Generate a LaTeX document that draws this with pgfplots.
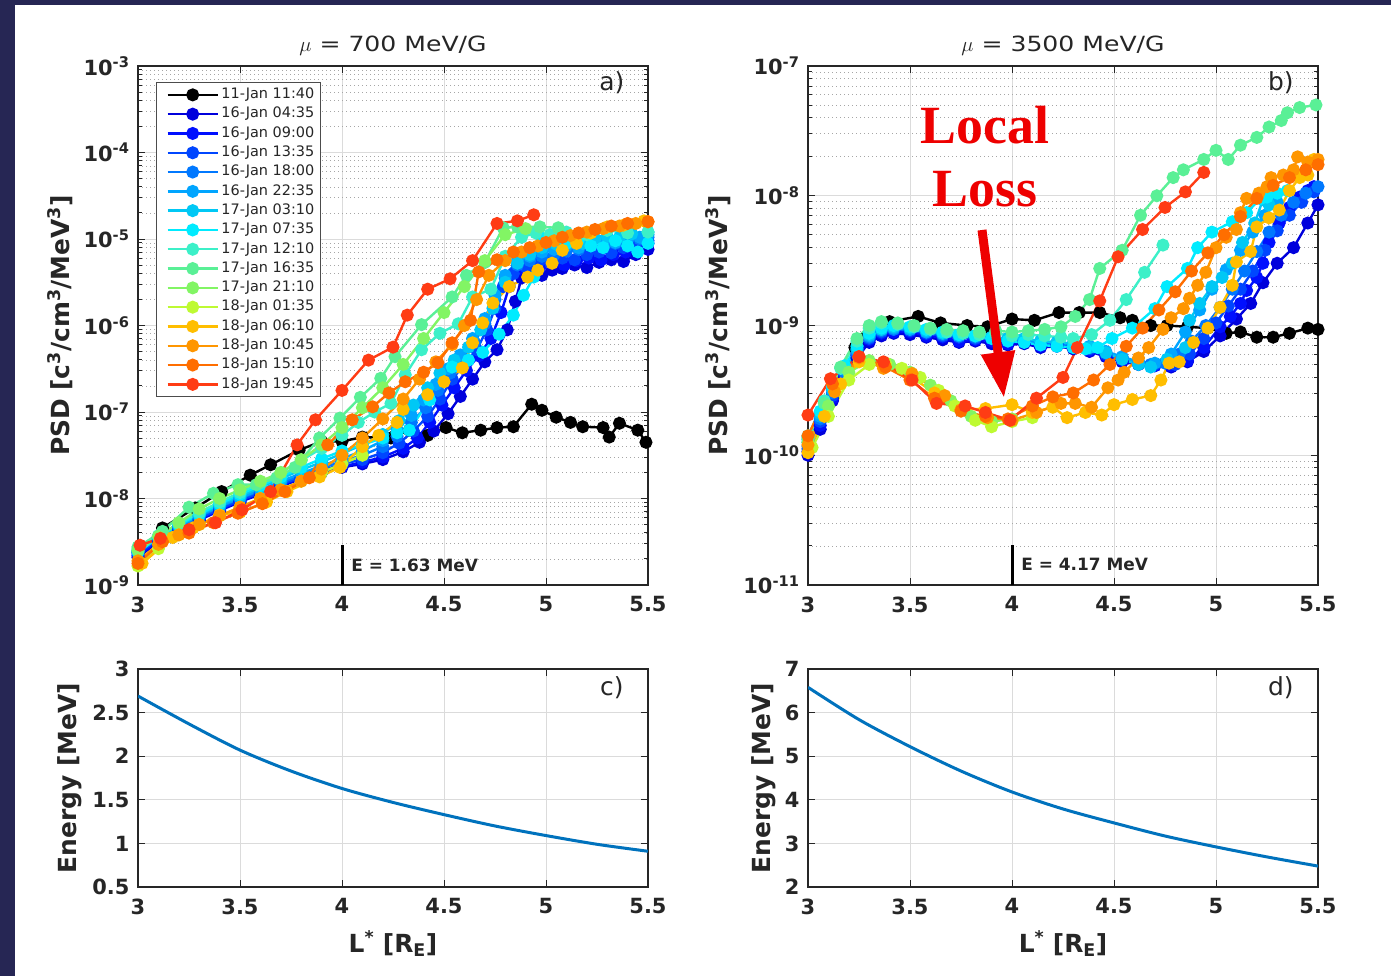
\documentclass[border=0pt]{standalone}
\usepackage{fontspec}
\setmainfont{DejaVu Sans}
\newfontfamily\timesfont{Liberation Serif}
\newfontfamily\titlefont{DejaVu Sans}[FakeStretch=1.2]
\usepackage{pgfplots}
\usepackage{pgfplotstable}
\pgfplotsset{compat=1.18}
\usetikzlibrary{arrows.meta}

\definecolor{navyb}{RGB}{38,38,84}
\colorlet{c0}{black}
\definecolor{c1}{RGB}{0,0,220}
\definecolor{c2}{RGB}{0,15,255}
\definecolor{c3}{RGB}{0,70,255}
\definecolor{c4}{RGB}{0,120,255}
\definecolor{c5}{RGB}{0,165,255}
\definecolor{c6}{RGB}{0,200,245}
\definecolor{c7}{RGB}{0,235,255}
\definecolor{c8}{RGB}{60,240,200}
\definecolor{c9}{RGB}{90,240,150}
\definecolor{c10}{RGB}{130,245,100}
\definecolor{c11}{RGB}{190,250,50}
\definecolor{c12}{RGB}{255,190,0}
\definecolor{c13}{RGB}{255,150,0}
\definecolor{c14}{RGB}{255,110,0}
\definecolor{c15}{RGB}{255,60,20}
\definecolor{mblue}{RGB}{0,114,189}
\definecolor{llred}{RGB}{238,0,0}

% ---------- panel a data (x = L*, y = log10 PSD) ----------
\pgfplotstableread[row sep=\\]{x y\\
3.00 -8.62\\3.12 -8.34\\3.28 -8.11\\3.41 -7.92\\3.55 -7.73\\3.65 -7.61\\3.79 -7.44\\3.90 -7.34\\4.00 -7.34\\4.10 -7.29\\4.24 -7.30\\4.33 -7.21\\4.42 -7.27\\4.51 -7.18\\4.59 -7.24\\4.68 -7.21\\4.76 -7.18\\4.84 -7.17\\4.93 -6.91\\4.98 -6.98\\5.05 -7.06\\5.12 -7.12\\5.18 -7.17\\5.28 -7.18\\5.31 -7.29\\5.36 -7.13\\5.45 -7.21\\5.49 -7.35\\
}\aZ
\pgfplotstableread[row sep=\\]{x y\\
3.00 -8.68\\3.10 -8.50\\3.20 -8.37\\3.30 -8.25\\3.40 -8.14\\3.50 -8.04\\3.60 -7.95\\3.70 -7.86\\3.80 -7.77\\3.90 -7.70\\4.00 -7.64\\4.10 -7.60\\4.20 -7.55\\4.30 -7.46\\4.38 -7.35\\4.45 -7.22\\4.52 -7.02\\4.58 -6.82\\4.64 -6.62\\4.70 -6.42\\4.76 -6.28\\4.81 -6.05\\4.85 -5.72\\4.88 -5.45\\4.93 -5.38\\4.98 -5.42\\5.03 -5.36\\5.08 -5.34\\5.14 -5.30\\5.20 -5.33\\5.26 -5.27\\5.32 -5.24\\5.38 -5.26\\5.44 -5.18\\5.50 -5.12\\
}\aA
\pgfplotstableread[row sep=\\]{x y\\
3.00 -8.66\\3.10 -8.49\\3.20 -8.36\\3.30 -8.24\\3.40 -8.13\\3.50 -8.03\\3.60 -7.94\\3.70 -7.85\\3.80 -7.76\\3.90 -7.69\\4.00 -7.63\\4.10 -7.58\\4.20 -7.52\\4.30 -7.42\\4.37 -7.30\\4.43 -7.12\\4.49 -6.92\\4.55 -6.72\\4.61 -6.52\\4.67 -6.35\\4.73 -6.15\\4.78 -5.85\\4.82 -5.55\\4.86 -5.35\\4.92 -5.30\\4.97 -5.33\\5.03 -5.28\\5.09 -5.30\\5.15 -5.25\\5.21 -5.22\\5.27 -5.24\\5.33 -5.18\\5.39 -5.15\\5.45 -5.10\\5.50 -5.05\\
}\aB
\pgfplotstableread[row sep=\\]{x y\\
3.00 -8.64\\3.10 -8.47\\3.20 -8.35\\3.30 -8.23\\3.40 -8.12\\3.50 -8.02\\3.60 -7.93\\3.70 -7.84\\3.80 -7.75\\3.90 -7.68\\4.00 -7.60\\4.10 -7.55\\4.20 -7.47\\4.28 -7.36\\4.35 -7.22\\4.42 -7.05\\4.48 -6.85\\4.54 -6.62\\4.60 -6.45\\4.66 -6.28\\4.71 -6.05\\4.75 -5.80\\4.79 -5.55\\4.84 -5.40\\4.90 -5.32\\4.96 -5.28\\5.02 -5.27\\5.08 -5.22\\5.14 -5.24\\5.20 -5.18\\5.26 -5.15\\5.32 -5.16\\5.38 -5.10\\5.44 -5.06\\5.50 -5.02\\
}\aC
\pgfplotstableread[row sep=\\]{x y\\
3.00 -8.62\\3.10 -8.46\\3.20 -8.33\\3.30 -8.21\\3.40 -8.10\\3.50 -8.00\\3.60 -7.91\\3.70 -7.82\\3.80 -7.73\\3.90 -7.65\\4.00 -7.57\\4.10 -7.50\\4.20 -7.40\\4.27 -7.28\\4.34 -7.12\\4.41 -6.95\\4.47 -6.75\\4.53 -6.55\\4.59 -6.38\\4.65 -6.20\\4.70 -5.98\\4.75 -5.70\\4.80 -5.45\\4.86 -5.30\\4.92 -5.25\\4.98 -5.20\\5.04 -5.18\\5.10 -5.14\\5.16 -5.12\\5.22 -5.08\\5.28 -5.10\\5.34 -5.05\\5.40 -5.02\\5.46 -5.00\\5.50 -4.98\\
}\aD
\pgfplotstableread[row sep=\\]{x y\\
3.00 -8.60\\3.10 -8.45\\3.20 -8.32\\3.30 -8.20\\3.40 -8.09\\3.50 -7.99\\3.60 -7.90\\3.70 -7.80\\3.80 -7.71\\3.90 -7.62\\4.00 -7.54\\4.10 -7.45\\4.20 -7.33\\4.27 -7.20\\4.34 -7.04\\4.40 -6.86\\4.46 -6.68\\4.52 -6.50\\4.58 -6.34\\4.64 -6.15\\4.70 -5.92\\4.75 -5.65\\4.80 -5.42\\4.86 -5.25\\4.92 -5.20\\4.98 -5.15\\5.04 -5.12\\5.10 -5.08\\5.16 -5.10\\5.22 -5.05\\5.28 -5.02\\5.34 -5.04\\5.40 -5.00\\5.46 -4.98\\5.50 -4.95\\
}\aE
\pgfplotstableread[row sep=\\]{x y\\
3.00 -8.60\\3.10 -8.44\\3.20 -8.31\\3.30 -8.19\\3.40 -8.07\\3.50 -7.97\\3.60 -7.87\\3.70 -7.77\\3.80 -7.67\\3.90 -7.58\\4.00 -7.48\\4.10 -7.38\\4.20 -7.26\\4.28 -7.10\\4.35 -6.92\\4.42 -6.72\\4.48 -6.55\\4.55 -6.40\\4.62 -6.25\\4.68 -6.05\\4.74 -5.80\\4.80 -5.50\\4.86 -5.28\\4.92 -5.18\\4.98 -5.10\\5.05 -5.06\\5.12 -5.02\\5.18 -5.05\\5.24 -5.00\\5.30 -4.97\\5.36 -4.98\\5.42 -4.94\\5.50 -4.92\\
}\aF
\pgfplotstableread[row sep=\\]{x y\\
3.00 -8.62\\3.10 -8.45\\3.20 -8.30\\3.30 -8.18\\3.40 -8.06\\3.50 -7.95\\3.60 -7.85\\3.70 -7.75\\3.80 -7.64\\3.90 -7.54\\4.00 -7.45\\4.10 -7.38\\4.20 -7.30\\4.27 -7.24\\4.33 -7.21\\4.43 -6.86\\4.54 -6.48\\4.62 -6.40\\4.69 -6.31\\4.77 -6.10\\4.84 -5.88\\4.89 -5.65\\4.94 -5.44\\4.98 -4.99\\5.04 -5.02\\5.10 -5.05\\5.16 -5.00\\5.22 -5.08\\5.28 -5.10\\5.34 -5.02\\5.40 -5.08\\5.45 -5.15\\5.50 -5.05\\
}\aG
\pgfplotstableread[row sep=\\]{x y\\
3.00 -8.58\\3.10 -8.43\\3.20 -8.29\\3.30 -8.16\\3.40 -8.04\\3.50 -7.93\\3.60 -7.82\\3.70 -7.70\\3.80 -7.56\\3.90 -7.42\\4.00 -7.27\\4.08 -7.12\\4.16 -7.00\\4.24 -6.90\\4.31 -6.57\\4.39 -6.28\\4.48 -6.09\\4.57 -5.98\\4.64 -5.67\\4.73 -5.58\\4.80 -5.20\\4.88 -4.98\\4.95 -4.93\\5.02 -4.95\\5.10 -4.92\\5.20 -4.95\\5.30 -4.90\\5.40 -4.93\\5.50 -4.92\\
}\aH
\pgfplotstableread[row sep=\\]{x y\\
3.00 -8.56\\3.12 -8.38\\3.25 -8.10\\3.37 -7.94\\3.49 -7.84\\3.58 -7.84\\3.68 -7.76\\3.77 -7.64\\3.89 -7.30\\3.99 -7.07\\4.09 -6.83\\4.19 -6.61\\4.26 -6.36\\4.39 -5.99\\4.54 -5.67\\4.61 -5.42\\4.70 -5.27\\4.79 -4.87\\4.86 -4.86\\4.97 -4.86\\5.06 -4.87\\
}\aI
\pgfplotstableread[row sep=\\]{x y\\
3.00 -8.60\\3.10 -8.44\\3.20 -8.28\\3.30 -8.12\\3.40 -8.00\\3.50 -7.90\\3.60 -7.80\\3.70 -7.70\\3.80 -7.55\\3.90 -7.38\\4.00 -7.18\\4.10 -6.95\\4.20 -6.72\\4.30 -6.45\\4.40 -6.15\\4.50 -5.85\\4.60 -5.55\\4.70 -5.25\\4.80 -4.95\\4.90 -4.88\\
}\aJ
\pgfplotstableread[row sep=\\]{x y\\
3.00 -8.78\\3.10 -8.58\\3.20 -8.42\\3.30 -8.30\\3.40 -8.20\\3.50 -8.10\\3.60 -8.00\\3.70 -7.90\\3.80 -7.80\\3.90 -7.70\\4.00 -7.60\\4.10 -7.50\\
}\aK
\pgfplotstableread[row sep=\\]{x y\\
3.02 -8.75\\3.17 -8.45\\3.27 -8.34\\3.40 -8.19\\3.50 -8.16\\3.63 -8.04\\3.73 -7.92\\3.89 -7.75\\3.99 -7.64\\4.10 -7.40\\4.18 -7.27\\4.27 -7.12\\4.30 -6.97\\4.42 -6.80\\4.50 -6.65\\4.59 -6.49\\4.64 -6.20\\4.69 -5.97\\4.74 -5.74\\4.82 -5.55\\4.91 -5.44\\4.96 -5.36\\5.03 -5.28\\5.08 -5.13\\5.15 -5.05\\5.22 -4.93\\5.30 -4.86\\5.38 -4.84\\5.48 -4.79\\
}\aL
\pgfplotstableread[row sep=\\]{x y\\
3.00 -8.72\\3.10 -8.53\\3.20 -8.42\\3.30 -8.30\\3.40 -8.20\\3.50 -8.10\\3.60 -8.00\\3.70 -7.90\\3.80 -7.80\\3.90 -7.66\\4.00 -7.50\\4.10 -7.30\\4.20 -7.08\\4.30 -6.85\\4.38 -6.62\\4.46 -6.42\\4.54 -6.22\\4.60 -6.00\\4.66 -5.70\\4.72 -5.42\\4.80 -5.25\\4.88 -5.15\\4.96 -5.08\\5.04 -5.02\\5.12 -4.96\\5.20 -4.92\\5.28 -4.88\\5.36 -4.85\\5.44 -4.82\\5.50 -4.80\\
}\aM
\pgfplotstableread[row sep=\\]{x y\\
3.00 -8.75\\3.12 -8.50\\3.25 -8.40\\3.37 -8.28\\3.49 -8.17\\3.61 -8.06\\3.72 -7.92\\3.84 -7.76\\3.93 -7.38\\4.05 -7.09\\4.15 -6.94\\4.23 -6.78\\4.31 -6.65\\4.40 -6.54\\4.47 -6.43\\4.54 -6.20\\4.63 -5.94\\4.67 -5.38\\4.76 -5.24\\4.84 -5.15\\4.92 -5.10\\5.00 -5.04\\5.08 -4.98\\5.16 -4.93\\5.24 -4.89\\5.32 -4.85\\5.40 -4.82\\5.50 -4.80\\
}\aN
\pgfplotstableread[row sep=\\]{x y\\
3.01 -8.54\\3.11 -8.46\\3.25 -8.36\\3.38 -8.28\\3.51 -8.13\\3.65 -7.92\\3.78 -7.38\\3.87 -7.09\\4.00 -6.75\\4.13 -6.40\\4.25 -6.25\\4.32 -5.88\\4.42 -5.58\\4.53 -5.46\\4.64 -5.25\\4.76 -4.82\\4.86 -4.79\\4.94 -4.72\\
}\aO

% ---------- panel b data ----------
\pgfplotstableread[row sep=\\]{x y\\
3.23 -9.17\\3.28 -9.10\\3.40 -8.97\\3.54 -8.93\\3.65 -8.98\\3.78 -9.00\\3.88 -9.01\\4.00 -8.95\\4.11 -8.96\\4.23 -8.90\\4.33 -8.90\\4.43 -8.90\\4.53 -8.94\\4.59 -8.96\\4.68 -9.00\\4.76 -9.00\\4.86 -9.01\\4.96 -9.02\\5.05 -9.06\\5.12 -9.05\\5.20 -9.09\\5.28 -9.09\\5.36 -9.06\\5.45 -9.02\\5.50 -9.03\\
}\bZ
\pgfplotstableread[row sep=\\]{x y\\
3.00 -10.00\\3.06 -9.80\\3.12 -9.58\\3.18 -9.40\\3.24 -9.25\\3.30 -9.13\\3.36 -9.08\\3.42 -9.06\\3.50 -9.07\\3.58 -9.09\\3.66 -9.11\\3.74 -9.13\\3.82 -9.12\\3.90 -9.14\\3.98 -9.15\\4.06 -9.14\\4.14 -9.17\\4.22 -9.16\\4.30 -9.18\\4.38 -9.20\\4.46 -9.24\\4.54 -9.28\\4.62 -9.30\\4.70 -9.31\\4.78 -9.32\\4.86 -9.28\\4.94 -9.20\\5.02 -9.08\\5.10 -8.95\\5.17 -8.83\\5.23 -8.67\\5.30 -8.52\\5.38 -8.40\\5.45 -8.21\\5.50 -8.07\\
}\bA
\pgfplotstableread[row sep=\\]{x y\\
3.00 -9.97\\3.06 -9.77\\3.12 -9.56\\3.18 -9.39\\3.24 -9.23\\3.30 -9.11\\3.36 -9.06\\3.42 -9.05\\3.50 -9.05\\3.58 -9.08\\3.66 -9.09\\3.74 -9.12\\3.82 -9.11\\3.90 -9.12\\3.98 -9.14\\4.06 -9.12\\4.14 -9.16\\4.22 -9.14\\4.30 -9.17\\4.38 -9.19\\4.46 -9.23\\4.54 -9.27\\4.62 -9.30\\4.70 -9.31\\4.78 -9.31\\4.86 -9.27\\4.94 -9.17\\5.02 -9.01\\5.07 -8.93\\5.12 -8.83\\5.15 -8.73\\5.20 -8.63\\5.23 -8.52\\5.26 -8.36\\5.31 -8.21\\5.36 -8.09\\5.41 -8.01\\5.45 -7.96\\5.48 -7.93\\
}\bB
\pgfplotstableread[row sep=\\]{x y\\
3.00 -9.95\\3.06 -9.74\\3.12 -9.54\\3.18 -9.37\\3.24 -9.22\\3.30 -9.10\\3.36 -9.05\\3.42 -9.03\\3.50 -9.04\\3.58 -9.06\\3.66 -9.08\\3.74 -9.09\\3.82 -9.10\\3.90 -9.10\\3.98 -9.12\\4.06 -9.13\\4.14 -9.14\\4.22 -9.15\\4.30 -9.15\\4.38 -9.18\\4.46 -9.22\\4.54 -9.26\\4.62 -9.29\\4.70 -9.30\\4.80 -9.30\\4.87 -9.22\\4.94 -9.10\\5.00 -8.98\\5.06 -8.85\\5.12 -8.72\\5.18 -8.58\\5.24 -8.42\\5.30 -8.27\\5.36 -8.15\\5.42 -8.05\\5.48 -7.97\\
}\bC
\pgfplotstableread[row sep=\\]{x y\\
3.00 -9.93\\3.06 -9.72\\3.12 -9.52\\3.18 -9.36\\3.24 -9.21\\3.30 -9.09\\3.36 -9.04\\3.42 -9.03\\3.50 -9.03\\3.58 -9.05\\3.66 -9.07\\3.74 -9.08\\3.82 -9.09\\3.90 -9.10\\3.98 -9.11\\4.06 -9.12\\4.14 -9.13\\4.22 -9.14\\4.30 -9.15\\4.38 -9.17\\4.46 -9.21\\4.54 -9.25\\4.62 -9.28\\4.68 -9.30\\4.75 -9.29\\4.82 -9.22\\4.88 -9.12\\4.95 -9.00\\5.02 -8.86\\5.08 -8.72\\5.14 -8.58\\5.20 -8.43\\5.26 -8.28\\5.32 -8.15\\5.38 -8.05\\5.44 -7.98\\5.50 -7.93\\
}\bD
\pgfplotstableread[row sep=\\]{x y\\
3.00 -9.90\\3.06 -9.70\\3.12 -9.50\\3.18 -9.34\\3.24 -9.19\\3.30 -9.08\\3.36 -9.03\\3.42 -9.02\\3.50 -9.03\\3.58 -9.05\\3.66 -9.06\\3.74 -9.08\\3.82 -9.08\\3.90 -9.09\\3.98 -9.10\\4.06 -9.11\\4.14 -9.12\\4.22 -9.13\\4.30 -9.14\\4.38 -9.16\\4.46 -9.20\\4.54 -9.24\\4.62 -9.28\\4.70 -9.29\\4.78 -9.22\\4.85 -9.05\\4.92 -8.88\\4.98 -8.72\\5.05 -8.57\\5.12 -8.42\\5.18 -8.28\\5.24 -8.15\\5.30 -8.05\\
}\bE
\pgfplotstableread[row sep=\\]{x y\\
3.00 -9.88\\3.06 -9.68\\3.12 -9.49\\3.18 -9.33\\3.24 -9.18\\3.30 -9.07\\3.36 -9.03\\3.42 -9.01\\3.50 -9.02\\3.58 -9.04\\3.66 -9.06\\3.74 -9.07\\3.82 -9.08\\3.90 -9.09\\3.98 -9.10\\4.06 -9.10\\4.14 -9.12\\4.22 -9.13\\4.30 -9.14\\4.38 -9.17\\4.46 -9.21\\4.54 -9.26\\4.62 -9.30\\4.68 -9.32\\4.76 -9.26\\4.85 -9.17\\4.87 -8.96\\4.92 -8.83\\4.98 -8.70\\5.03 -8.63\\5.08 -8.52\\5.13 -8.36\\5.19 -8.21\\5.23 -8.03\\5.26 -8.07\\
}\bF
\pgfplotstableread[row sep=\\]{x y\\
3.00 -9.86\\3.06 -9.66\\3.12 -9.47\\3.18 -9.31\\3.24 -9.16\\3.30 -9.06\\3.36 -9.02\\3.42 -9.00\\3.50 -9.01\\3.58 -9.03\\3.66 -9.05\\3.74 -9.07\\3.82 -9.08\\3.90 -9.10\\3.98 -9.12\\4.06 -9.13\\4.14 -9.15\\4.22 -9.16\\4.30 -9.17\\4.36 -9.18\\4.42 -9.17\\4.49 -9.10\\4.59 -9.02\\4.70 -8.87\\4.76 -8.70\\4.86 -8.56\\4.91 -8.40\\4.98 -8.28\\5.08 -8.20\\5.15 -8.13\\5.22 -8.02\\5.25 -8.01\\5.30 -7.98\\5.35 -7.96\\
}\bG
\pgfplotstableread[row sep=\\]{x y\\
3.00 -9.85\\3.08 -9.58\\3.16 -9.33\\3.24 -9.12\\3.30 -9.02\\3.36 -8.98\\3.44 -8.99\\3.52 -9.01\\3.60 -9.03\\3.68 -9.05\\3.76 -9.06\\3.84 -9.07\\3.92 -9.06\\4.00 -9.08\\4.08 -9.07\\4.16 -9.08\\4.24 -9.09\\4.30 -9.10\\4.39 -9.07\\4.48 -8.96\\4.56 -8.80\\4.65 -8.59\\4.74 -8.38\\
}\bH
\pgfplotstableread[row sep=\\]{x y\\
3.00 -9.87\\3.08 -9.60\\3.16 -9.32\\3.24 -9.10\\3.30 -9.00\\3.36 -8.97\\3.44 -8.98\\3.52 -9.00\\3.60 -9.02\\3.68 -9.03\\3.76 -9.04\\3.84 -9.05\\3.92 -9.04\\4.00 -9.05\\4.08 -9.04\\4.16 -9.03\\4.24 -9.01\\4.31 -8.93\\4.38 -8.80\\4.43 -8.56\\4.54 -8.42\\4.63 -8.15\\4.71 -8.00\\4.79 -7.86\\4.84 -7.80\\4.94 -7.72\\5.00 -7.65\\5.06 -7.72\\5.12 -7.61\\5.20 -7.55\\5.26 -7.47\\5.32 -7.42\\5.35 -7.36\\5.41 -7.32\\5.49 -7.30\\
}\bI
\pgfplotstableread[row sep=\\]{x y\\
3.00 -9.90\\3.10 -9.62\\3.20 -9.36\\3.30 -9.27\\3.40 -9.30\\3.50 -9.36\\3.60 -9.46\\3.70 -9.58\\3.80 -9.70\\3.90 -9.74\\4.00 -9.72\\
}\bJ
\pgfplotstableread[row sep=\\]{x y\\
3.02 -9.94\\3.10 -9.70\\3.20 -9.42\\3.30 -9.30\\3.38 -9.29\\3.46 -9.33\\3.55 -9.40\\3.64 -9.50\\3.72 -9.62\\3.82 -9.73\\3.90 -9.78\\4.00 -9.74\\4.10 -9.71\\
}\bK
\pgfplotstableread[row sep=\\]{x y\\
3.00 -9.98\\3.08 -9.70\\3.16 -9.45\\3.25 -9.28\\3.37 -9.29\\3.51 -9.40\\3.62 -9.52\\3.75 -9.65\\3.87 -9.64\\4.00 -9.61\\4.10 -9.67\\4.20 -9.63\\4.27 -9.71\\4.36 -9.67\\4.44 -9.69\\4.50 -9.61\\4.59 -9.57\\4.68 -9.54\\4.73 -9.42\\4.77 -9.29\\4.82 -9.28\\4.89 -9.13\\4.96 -9.02\\5.02 -8.86\\5.08 -8.69\\5.10 -8.51\\5.17 -8.43\\5.20 -8.24\\5.26 -8.17\\5.31 -8.11\\5.36 -7.96\\5.41 -7.86\\5.45 -7.84\\5.48 -7.72\\
}\bL
\pgfplotstableread[row sep=\\]{x y\\
3.00 -9.92\\3.13 -9.51\\3.25 -9.25\\3.37 -9.33\\3.51 -9.37\\3.67 -9.54\\3.75 -9.65\\3.88 -9.71\\4.00 -9.73\\4.12 -9.67\\4.24 -9.60\\4.31 -9.60\\4.39 -9.63\\4.47 -9.48\\4.52 -9.42\\4.55 -9.36\\4.62 -9.25\\4.67 -9.17\\4.74 -9.03\\4.78 -8.94\\4.84 -8.87\\4.87 -8.79\\4.91 -8.69\\4.95 -8.59\\5.00 -8.40\\5.05 -8.32\\5.10 -8.26\\5.12 -8.13\\5.15 -8.02\\5.21 -7.98\\5.25 -7.93\\5.27 -7.86\\5.33 -7.84\\5.38 -7.80\\5.40 -7.70\\5.45 -7.74\\5.50 -7.72\\
}\bM
\pgfplotstableread[row sep=\\]{x y\\
3.00 -9.85\\3.12 -9.45\\3.25 -9.24\\3.38 -9.32\\3.50 -9.42\\3.62 -9.56\\3.75 -9.66\\3.87 -9.70\\3.98 -9.72\\4.10 -9.62\\4.20 -9.55\\4.30 -9.52\\4.40 -9.42\\4.48 -9.30\\4.56 -9.16\\4.64 -9.02\\4.72 -8.88\\4.80 -8.74\\4.88 -8.58\\4.96 -8.44\\5.04 -8.30\\5.12 -8.16\\5.20 -8.02\\5.28 -7.92\\5.36 -7.86\\5.44 -7.80\\5.50 -7.76\\
}\bN
\pgfplotstableread[row sep=\\]{x y\\
3.00 -9.69\\3.11 -9.41\\3.25 -9.24\\3.37 -9.28\\3.51 -9.42\\3.63 -9.60\\3.77 -9.62\\3.87 -9.67\\3.99 -9.73\\4.12 -9.56\\4.25 -9.40\\4.32 -9.17\\4.43 -8.81\\4.52 -8.47\\4.64 -8.26\\4.75 -8.09\\4.85 -7.97\\4.94 -7.82\\
}\bO

\pgfkeys{/pgfplots/table/lg/.style={y expr={10^(\thisrow{y})}}}
\pgfplotsset{
  ser/.style={color=#1, line width=2.4bp, mark=*, mark size=5.3bp, mark options={solid,fill=#1,draw=#1}},
  myax/.style={
    scale only axis, width=510bp,
    axis line style={draw=black!85, line width=1.2bp},
    tick align=inside, tick pos=both,
    major tick length=7bp, minor tick length=4bp,
    every tick/.style={draw=black!85, line width=1bp},
    xmin=3, xmax=5.5,
    xtick={3,3.5,4,4.5,5,5.5}, xticklabels={3,3.5,4,4.5,5,5.5},
    tick label style={font=\bfseries\fontsize{21}{25}\selectfont, text=black!85},
    xticklabel style={yshift=-8bp},
    yticklabel style={xshift=-5bp},
    label style={font=\bfseries\fontsize{25}{29}\selectfont, text=black!85},
    title style={font=\titlefont\fontsize{21}{25}\selectfont, text=black!85, at={(axis description cs:0.5,1.016)}, anchor=base},
    xmajorgrids=true, ymajorgrids=true,
    major grid style={draw=black!14, line width=0.8bp},
    minor grid style={draw=black!35, line width=0.8bp, dash pattern=on 1bp off 3bp},
    log number format basis/.code 2 args={10\textsuperscript{\pgfmathprintnumber[assume math mode=true]{##2}}},
  },
}

\begin{document}
\begin{tikzpicture}
\fill[navyb] (0bp,0bp) rectangle (1391bp,-976bp);
\fill[white] (15bp,-5bp) rectangle (1391bp,-976bp);
\useasboundingbox (0bp,0bp) rectangle (1391bp,-976bp);

% ---------------- panel a ----------------
\begin{axis}[myax, at={(138bp,-585bp)}, anchor=south west, height=519bp,
  ymode=log, ymin=1e-9, ymax=1e-3, yminorgrids=true,
  title={$\mu$ = 700 MeV/G},
  ylabel={PSD [c\textsuperscript{3}/cm\textsuperscript{3}/MeV\textsuperscript{3}]},
  ylabel style={at={(axis description cs:-0.153,0.5)}, anchor=center},
  legend style={at={(axis description cs:0.0353,0.969)}, anchor=north west,
    draw=black!70, line width=1bp, fill=white,
    font=\fontsize{14.5}{16}\selectfont, text=black!85,
    inner xsep=4bp, inner ysep=3bp, row sep=0.8bp,
    nodes={inner sep=2.5bp, text height=10.5bp, text depth=3bp}},
  legend cell align=left,
  legend image code/.code={\path (0bp,0bp); \draw[mark repeat=2,mark phase=2,#1] plot coordinates {(6bp,0bp) (31bp,0bp) (56bp,0bp)};},
]
\addplot[ser=c0] table[lg]{\aZ}; \addlegendentry{11-Jan 11:40}
\addplot[ser=c1] table[lg]{\aA}; \addlegendentry{16-Jan 04:35}
\addplot[ser=c2] table[lg]{\aB}; \addlegendentry{16-Jan 09:00}
\addplot[ser=c3] table[lg]{\aC}; \addlegendentry{16-Jan 13:35}
\addplot[ser=c4] table[lg]{\aD}; \addlegendentry{16-Jan 18:00}
\addplot[ser=c5] table[lg]{\aE}; \addlegendentry{16-Jan 22:35}
\addplot[ser=c6] table[lg]{\aF}; \addlegendentry{17-Jan 03:10}
\addplot[ser=c7] table[lg]{\aG}; \addlegendentry{17-Jan 07:35}
\addplot[ser=c8] table[lg]{\aH}; \addlegendentry{17-Jan 12:10}
\addplot[ser=c9] table[lg]{\aI}; \addlegendentry{17-Jan 16:35}
\addplot[ser=c10] table[lg]{\aJ}; \addlegendentry{17-Jan 21:10}
\addplot[ser=c11] table[lg]{\aK}; \addlegendentry{18-Jan 01:35}
\addplot[ser=c12] table[lg]{\aL}; \addlegendentry{18-Jan 06:10}
\addplot[ser=c13] table[lg]{\aM}; \addlegendentry{18-Jan 10:45}
\addplot[ser=c14] table[lg]{\aN}; \addlegendentry{18-Jan 15:10}
\addplot[ser=c15] table[lg]{\aO}; \addlegendentry{18-Jan 19:45}
\draw[line width=3bp, black] (axis cs:4,1e-9) -- (axis cs:4,2.9e-9);
\node[anchor=west, inner sep=0pt, font=\bfseries\fontsize{17}{20}\selectfont, text=black!85] at (axis cs:4.045,1.7e-9) {E = 1.63 MeV};
\node[font=\fontsize{25}{30}\selectfont, text=black!85] at (axis description cs:0.929,0.967) {a)};
\end{axis}

% ---------------- panel b ----------------
\begin{axis}[myax, at={(808bp,-585bp)}, anchor=south west, height=519bp,
  ymode=log, ymin=1e-11, ymax=1e-7, yminorgrids=true,
  title={$\mu$ = 3500 MeV/G},
  ylabel={PSD [c\textsuperscript{3}/cm\textsuperscript{3}/MeV\textsuperscript{3}]},
  ylabel style={at={(axis description cs:-0.176,0.5)}, anchor=center},
]
\addplot[ser=c0] table[lg]{\bZ};
\addplot[ser=c1] table[lg]{\bA};
\addplot[ser=c2] table[lg]{\bB};
\addplot[ser=c3] table[lg]{\bC};
\addplot[ser=c4] table[lg]{\bD};
\addplot[ser=c5] table[lg]{\bE};
\addplot[ser=c6] table[lg]{\bF};
\addplot[ser=c7] table[lg]{\bG};
\addplot[ser=c8] table[lg]{\bH};
\addplot[ser=c9] table[lg]{\bI};
\addplot[ser=c10] table[lg]{\bJ};
\addplot[ser=c11] table[lg]{\bK};
\addplot[ser=c12] table[lg]{\bL};
\addplot[ser=c13] table[lg]{\bM};
\addplot[ser=c14] table[lg]{\bN};
\addplot[ser=c15] table[lg]{\bO};
\draw[line width=3bp, black] (axis cs:4,1e-11) -- (axis cs:4,2.04e-11);
\node[anchor=west, inner sep=0pt, font=\bfseries\fontsize{17}{20}\selectfont, text=black!85] at (axis cs:4.045,1.43e-11) {E = 4.17 MeV};
\node[font=\fontsize{25}{30}\selectfont, text=black!85] at (axis description cs:0.927,0.967) {b)};
\end{axis}

% ---------------- panel c ----------------
\begin{axis}[myax, at={(138bp,-887bp)}, anchor=south west, height=218bp,
  ymin=0.5, ymax=3, ytick={0.5,1,1.5,2,2.5,3}, yticklabels={0.5,1,1.5,2,2.5,3},
  ylabel={Energy [MeV]},
  ylabel style={at={(axis description cs:-0.133,0.5)}, anchor=center},
  xlabel={L\textsuperscript{*} [R\textsubscript{E}]},
  xlabel style={at={(axis description cs:0.5,-0.30)}, anchor=base},
]
\addplot[color=mblue, line width=3bp, smooth, no marks] coordinates {
(3.00,2.69) (3.25,2.37) (3.50,2.07) (3.75,1.83) (4.00,1.63) (4.25,1.47) (4.50,1.33) (4.75,1.20) (5.00,1.09) (5.25,0.99) (5.50,0.91)};
\node[font=\fontsize{25}{30}\selectfont, text=black!85] at (axis description cs:0.929,0.913) {c)};
\end{axis}

% ---------------- panel d ----------------
\begin{axis}[myax, at={(808bp,-887bp)}, anchor=south west, height=218bp,
  ymin=2, ymax=7, ytick={2,3,4,5,6,7}, yticklabels={2,3,4,5,6,7},
  ylabel={Energy [MeV]},
  ylabel style={at={(axis description cs:-0.086,0.5)}, anchor=center},
  xlabel={L\textsuperscript{*} [R\textsubscript{E}]},
  xlabel style={at={(axis description cs:0.5,-0.30)}, anchor=base},
]
\addplot[color=mblue, line width=3bp, smooth, no marks] coordinates {
(3.00,6.58) (3.25,5.84) (3.50,5.22) (3.75,4.66) (4.00,4.18) (4.25,3.79) (4.50,3.47) (4.75,3.17) (5.00,2.92) (5.25,2.69) (5.50,2.48)};
\node[font=\fontsize{25}{30}\selectfont, text=black!85] at (axis description cs:0.927,0.913) {d)};
\end{axis}

% ---------------- annotation ----------------
\node[anchor=base, text=llred, font=\timesfont\bfseries\fontsize{54}{60}\selectfont] at (985bp,-143bp) {Local};
\node[anchor=base, text=llred, font=\timesfont\bfseries\fontsize{54}{60}\selectfont] at (985bp,-206bp) {Loss};
\draw[llred, line width=9bp, -{Triangle[length=46bp,width=32bp]}] (982bp,-230bp) -- (1004bp,-398bp);
\end{tikzpicture}
\end{document}
